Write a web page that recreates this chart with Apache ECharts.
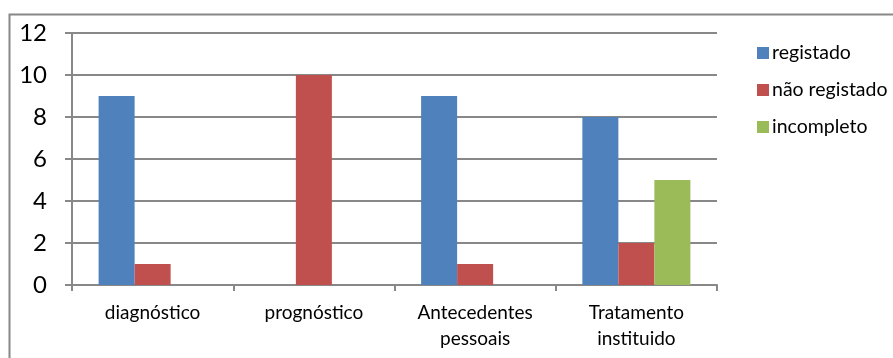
<!DOCTYPE html>
<html>
<head>
<meta charset="utf-8">
<script src="https://cdn.jsdelivr.net/npm/echarts@6/dist/echarts.min.js"></script>
<style>
  html, body { margin: 0; padding: 0; background: #fff; }
  #chart { width: 893px; height: 358px; }
</style>
</head>
<body>
<div id="chart"></div>
<script>
// Record status per field
const categories = ['diagnóstico', 'prognóstico', 'Antecedentes\npessoais', 'Tratamento\ninstituido'];
const registado = [9, 0, 9, 8];
const naoRegistado = [1, 10, 1, 2];
const incompleto = [0, 0, 0, 5];
const seriesNames = ['registado', 'não registado', 'incompleto'];
const yTicks = [0, 2, 4, 6, 8, 10, 12];

const font = 'Lato, "Open Sans", sans-serif';
const chart = echarts.init(document.getElementById('chart'), null, { renderer: 'canvas' });

chart.setOption({
  animation: false,
  backgroundColor: '#fff',
  graphic: [{
    type: 'rect',
    shape: { x: 9.5, y: 14.5, width: 1000, height: 1000 },
    style: { fill: 'none', stroke: '#888', lineWidth: 2 },
    silent: true,
    z: -1
  }],
  grid: { left: 72, top: 33, width: 645, height: 252 },
  legend: {
    orient: 'vertical',
    left: 752,
    top: 38,
    icon: 'rect',
    itemWidth: 12,
    itemHeight: 12,
    itemGap: 17,
    data: seriesNames,
    textStyle: { fontFamily: font, fontSize: 19.5, color: '#000', padding: [0, 0, 0, -2] }
  },
  xAxis: {
    type: 'category',
    data: categories,
    axisLine: { lineStyle: { color: '#888', width: 2 } },
    axisTick: { show: true, length: 6, lineStyle: { color: '#888', width: 2 } },
    axisLabel: { fontFamily: font, fontSize: 19, color: '#000', margin: 15, lineHeight: 26, interval: 0 }
  },
  yAxis: {
    type: 'value',
    min: yTicks[0],
    max: yTicks[yTicks.length - 1],
    interval: 2,
    axisLine: { show: true, lineStyle: { color: '#888', width: 2 } },
    axisTick: { show: true, length: 7, lineStyle: { color: '#888', width: 2 } },
    splitLine: { lineStyle: { color: '#888', width: 2 } },
    axisLabel: { fontFamily: font, fontSize: 24, color: '#000', margin: 25 }
  },
  series: [
    { name: seriesNames[0], type: 'bar', data: registado, itemStyle: { color: '#4F81BD' }, barGap: '0%', barCategoryGap: '33%' },
    { name: seriesNames[1], type: 'bar', data: naoRegistado, itemStyle: { color: '#C0504D' }, barGap: '0%', barCategoryGap: '33%' },
    { name: seriesNames[2], type: 'bar', data: incompleto, itemStyle: { color: '#9BBB59' }, barGap: '0%', barCategoryGap: '33%' }
  ]
});
</script>
</body>
</html>
